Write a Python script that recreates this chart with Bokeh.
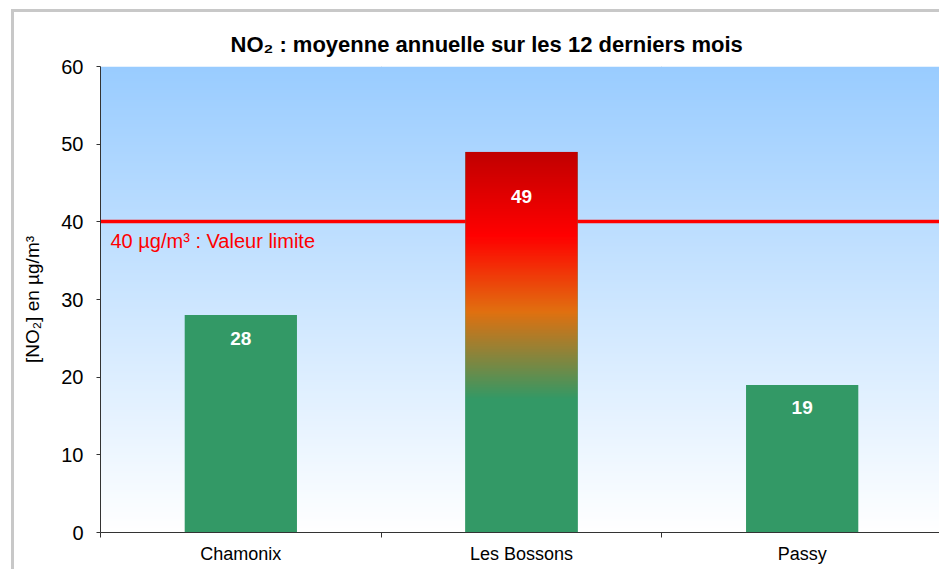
import numpy as np
from bokeh.plotting import figure
from bokeh.models import Range1d, FixedTicker, Label
from bokeh.core.properties import value
from bokeh.embed import file_html
from bokeh.resources import INLINE

# ---- data ----
stations = ["Chamonix", "Les Bossons", "Passy"]
no2_values = [28, 49, 19]
limit_value = 40
limit_text = "40 µg/m³ : Valeur limite"
title_text = "NO₂ : moyenne annuelle sur les 12 derniers mois"
y_label = "[NO₂] en µg/m³"
y_ticks = [0, 10, 20, 30, 40, 50, 60]
y_max = 60

# ---- styles ----
FONT = "Liberation Sans"
GREEN = (51, 153, 102)
BG_TOP = (153, 204, 255)
BG_BOTTOM = (255, 255, 255)
GRAD_STOPS = [(0.0, GREEN), (0.35, GREEN), (0.58, (225, 112, 16)),
              (0.78, (255, 0, 0)), (1.0, (192, 0, 0))]

n = len(stations)
xc = [i + 0.5 for i in range(n)]
bar_w = 0.4

p = figure(width=928, height=560, x_range=Range1d(0, n), y_range=Range1d(0, y_max),
           output_backend="svg", toolbar_location=None,
           min_border_left=86, min_border_right=0, min_border_top=54, min_border_bottom=40)
p.styles = {"margin-left": "11px", "margin-top": "9px",
            "border-left": "3px solid #c8c8c8", "border-top": "3px solid #c8c8c8"}
p.background_fill_color = "white"
p.border_fill_color = "white"
p.outline_line_color = None

rows = 600
t = np.linspace(0, 1, rows)[:, None]
bg = np.zeros((rows, 1), dtype=np.uint32)
view = bg.view(dtype=np.uint8).reshape((rows, 1, 4))
for k in range(3):
    view[:, :, k] = np.round(BG_BOTTOM[k] + (BG_TOP[k] - BG_BOTTOM[k]) * t).astype(np.uint8)
view[:, :, 3] = 255
p.image_rgba(image=[bg], x=0, y=0, dw=n, dh=y_max)

p.hspan(y=[limit_value], line_color="#ff0000", line_width=3.5)

p.vbar(x=xc, top=no2_values, width=bar_w, fill_color="#339966", line_color=None)

def grad_image(rows=500):
    f = np.linspace(0, 1, rows)
    img = np.zeros((rows, 1), dtype=np.uint32)
    v = img.view(dtype=np.uint8).reshape((rows, 1, 4))
    fs = [s[0] for s in GRAD_STOPS]
    for k in range(3):
        cs = [s[1][k] for s in GRAD_STOPS]
        v[:, 0, k] = np.round(np.interp(f, fs, cs)).astype(np.uint8)
    v[:, :, 3] = 255
    return img

for xi, val in zip(xc, no2_values):
    if val > limit_value:
        p.image_rgba(image=[grad_image()], x=xi - bar_w / 2, y=0, dw=bar_w, dh=val)

# value labels: bars over the limit carry their label a bit lower
for xi, val in zip(xc, no2_values):
    off = 45 if val > limit_value else 23
    p.text(x=[xi], y=[val], text=[str(val)], text_align="center",
           text_baseline="middle", y_offset=off, text_color="white",
           text_font=value(FONT), text_font_size="19px", text_font_style="bold")

p.add_layout(Label(x=0, y=limit_value, x_offset=10, y_offset=-8, text=limit_text,
                   text_baseline="top", text_color="#ff0000", text_font=FONT,
                   text_font_size="20px"))

p.yaxis.ticker = FixedTicker(ticks=y_ticks)
p.yaxis.axis_label = y_label
p.yaxis.axis_label_text_font = FONT
p.yaxis.axis_label_text_font_size = "19px"
p.yaxis.axis_label_text_font_style = "normal"
p.yaxis.axis_label_text_color = "black"
p.yaxis.axis_label_standoff = 15
p.yaxis.major_label_text_font = FONT
p.yaxis.major_label_text_font_size = "20px"
p.yaxis.major_label_text_color = "black"
p.yaxis.major_label_standoff = 13
p.yaxis.major_tick_in = 0
p.yaxis.major_tick_out = 4
p.yaxis.minor_tick_line_color = None
p.yaxis.major_tick_line_color = "#333333"

p.xaxis.ticker = FixedTicker(ticks=xc, minor_ticks=list(range(n + 1)))
p.xaxis.major_label_overrides = {x: s for x, s in zip(xc, stations)}
p.xaxis.major_label_text_font = FONT
p.xaxis.major_label_text_font_size = "18px"
p.xaxis.major_label_text_color = "black"
p.xaxis.major_label_standoff = 6
p.xaxis.major_tick_line_color = None
p.xaxis.major_tick_in = 0
p.xaxis.major_tick_out = 0
p.xaxis.minor_tick_in = 0
p.xaxis.minor_tick_out = 5
p.xaxis.minor_tick_line_color = "#333333"

for ax in (p.xaxis, p.yaxis):
    ax.axis_line_color = "#333333"

p.ygrid.ticker = FixedTicker(ticks=y_ticks)
p.xgrid.ticker = FixedTicker(ticks=list(range(1, n + 1)))
for g in (p.xgrid, p.ygrid):
    g.grid_line_color = "#b8b8b8"
    g.grid_line_dash = "2 2"
    g.grid_line_width = 1

p.title.text = title_text
p.title.text_font = FONT
p.title.text_font_size = "22px"
p.title.text_font_style = "bold"
p.title.text_color = "black"
p.title.align = "left"
p.title.offset = 130
p.title.standoff = 20

open("out.html", "w").write(file_html(p, INLINE))
